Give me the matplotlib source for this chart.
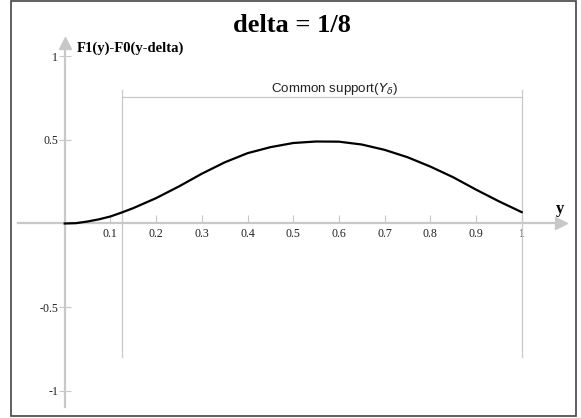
import matplotlib
matplotlib.use("Agg")
import matplotlib.pyplot as plt
from matplotlib.patches import Rectangle

# curve F1(y)-F0(y-delta)
y_vals = [0, 0.025, 0.05, 0.075, 0.1, 0.125, 0.15, 0.2, 0.25, 0.3, 0.35, 0.4, 0.45,
          0.5, 0.55, 0.6, 0.65, 0.7, 0.75, 0.8, 0.85, 0.9, 0.95, 1.0]
f_vals = [0, 0.002, 0.012, 0.025, 0.042, 0.066, 0.092, 0.152, 0.222, 0.298, 0.366, 0.421, 0.457,
          0.482, 0.491, 0.490, 0.473, 0.441, 0.397, 0.341, 0.277, 0.203, 0.133, 0.068]

x_ticks = [0.1, 0.2, 0.3, 0.4, 0.5, 0.6, 0.7, 0.8, 0.9, 1]
x_labels = ["0.1", "0.2", "0.3", "0.4", "0.5", "0.6", "0.7", "0.8", "0.9", "1"]
y_ticks = [-1, -0.5, 0.5, 1]
y_labels = ["-1", "-0.5", "0.5", "1"]

delta = 1 / 8
support = [delta, 1.0]

W, H = 581, 418
x0_px, x_scale = 64.7, 457.0
y0_px, y_scale = 223.5, 167.0
gray = "#c8c8c8"
serif = "Liberation Serif"

fig = plt.figure(figsize=(W / 100, H / 100), dpi=100)
ax = fig.add_axes([0, 0, 1, 1])
ax.set_xlim(-x0_px / x_scale, (W - x0_px) / x_scale)
ax.set_ylim((y0_px - H) / y_scale, y0_px / y_scale)
ax.patch.set_visible(False)

# axes through the origin
for s in ["top", "right"]:
    ax.spines[s].set_visible(False)
ax.spines["left"].set_position(("data", 0))
ax.spines["bottom"].set_position(("data", 0))
ax.spines["left"].set_bounds(-1.1, 1.07)
ax.spines["bottom"].set_bounds(-0.103, 1.08)
for s in ["left", "bottom"]:
    ax.spines[s].set_color(gray)
    ax.spines[s].set_linewidth(1.6)
ax.plot([1.085], [0], marker=">", color=gray, markersize=8, clip_on=False)
ax.plot([0], [1.078], marker="^", color=gray, markersize=8, clip_on=False)

ax.set_xticks(x_ticks)
ax.set_xticklabels(x_labels)
ax.set_yticks(y_ticks)
ax.set_yticklabels(y_labels)
ax.tick_params(axis="x", direction="in", length=5.5, width=0.8, color=gray,
               pad=3.2, labelsize=8.6, labelcolor="#222222")
ax.tick_params(axis="y", direction="inout", length=8.5, width=0.8, color=gray,
               pad=0.5, labelsize=8.6, labelcolor="#222222")
for lab in ax.get_xticklabels() + ax.get_yticklabels():
    lab.set_family(serif)

# common support bracket
ax.plot([support[0], support[0]], [-0.8, 0.8], color=gray, lw=0.9)
ax.plot([support[1], support[1]], [-0.8, 0.8], color=gray, lw=0.9)
ax.plot(support, [0.759, 0.759], color=gray, lw=0.9)
ax.text(0.59, 0.79, r"Common support($Y_{\delta}$)", ha="center", va="baseline",
        fontsize=9.6, family="Liberation Sans", color="#222222")

ax.plot(y_vals, f_vals, color="black", lw=1.6, zorder=4)

ax.text(0.026, 1.029, "F1(y)-F0(y-delta)", ha="left", va="baseline",
        fontsize=10.5, weight="bold", family=serif)
ax.text(1.083, 0.063, "y", ha="center", va="baseline",
        fontsize=12, weight="bold", family=serif)

fig.text(0.503, 1 - 32.3 / H, "delta = 1/8", ha="center", va="baseline",
         fontsize=19, weight="bold", family=serif)

fig.patches.append(Rectangle((10.5 / W, 2.5 / H), 565 / W, 414.5 / H, transform=fig.transFigure,
                             fill=False, edgecolor="#444444", lw=1.2))

fig.savefig("out.png", dpi=100)
